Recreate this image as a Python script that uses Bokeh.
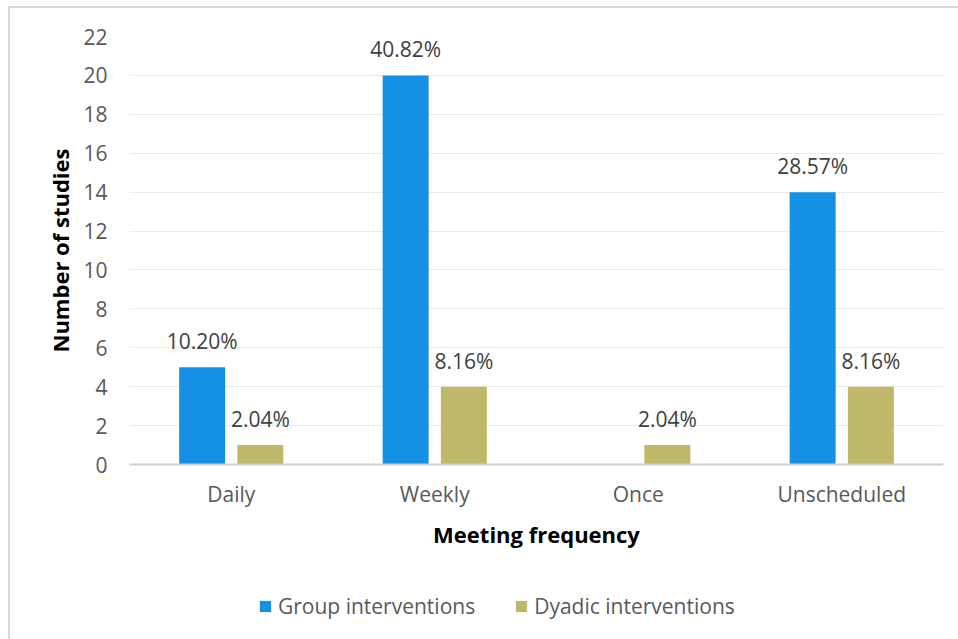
from bokeh.plotting import figure
from bokeh.layouts import column
from bokeh.models import (ColumnDataSource, FactorRange, FixedTicker, Legend,
                          LegendItem, LabelSet)
from bokeh.core.properties import value
from bokeh.transform import dodge
from bokeh.embed import file_html
from bokeh.resources import INLINE

# Meeting frequency of interventions: number of studies per category
categories = ["Daily", "Weekly", "Once", "Unscheduled"]
group_counts = [5, 20, 0, 14]
dyadic_counts = [1, 4, 1, 4]
group_labels = ["10.20%", "40.82%", "", "28.57%"]
dyadic_labels = ["2.04%", "8.16%", "2.04%", "8.16%"]
y_ticks = [0, 2, 4, 6, 8, 10, 12, 14, 16, 18, 20, 22]
series_names = ["Group interventions", "Dyadic interventions"]

FONT = "Open Sans"
TXT = "21px"
TITLE = "22px"
BLUE = "#1490E4"
OLIVE = "#BFB86B"

src = ColumnDataSource(dict(
    cat=categories,
    group=group_counts,
    dyadic=dyadic_counts,
    glabel=group_labels,
    dlabel=dyadic_labels,
))

# ---- main bar chart -------------------------------------------------------
p = figure(
    x_range=FactorRange(*categories, range_padding=0),
    y_range=(0, 22),
    width=958, height=564,
    output_backend="svg", toolbar_location=None,
    min_border_left=129, min_border_right=15,
    min_border_top=36, min_border_bottom=100,
)
p.outline_line_color = None
p.background_fill_color = "white"
p.border_fill_color = None

bar_w = 0.226
off = 0.143
p.vbar(x=dodge("cat", -off, range=p.x_range), top="group", width=bar_w,
       source=src, fill_color=BLUE, line_color=None)
p.vbar(x=dodge("cat", off, range=p.x_range), top="dyadic", width=bar_w,
       source=src, fill_color=OLIVE, line_color=None)

for col, lab, dx in (("group", "glabel", -off), ("dyadic", "dlabel", off)):
    p.add_layout(LabelSet(
        x=dodge("cat", dx, range=p.x_range), y=col, text=lab, source=src,
        y_offset=12, text_align="center", text_baseline="bottom",
        text_font=value(FONT), text_font_size=value(TXT), text_color="#404040",
    ))

p.yaxis.ticker = FixedTicker(ticks=y_ticks)
p.yaxis.axis_line_color = None
p.yaxis.major_tick_line_color = None
p.yaxis.minor_tick_line_color = None
p.yaxis.major_tick_out = 0
p.yaxis.minor_tick_out = 0
p.yaxis.major_label_standoff = 22
p.yaxis.major_label_text_font = FONT
p.yaxis.major_label_text_font_size = TXT
p.yaxis.major_label_text_color = "#595959"
p.yaxis.axis_label = "Number of studies"
p.yaxis.axis_label_text_font = FONT
p.yaxis.axis_label_text_font_style = "bold"
p.yaxis.axis_label_text_font_size = TITLE
p.yaxis.axis_label_text_color = "black"
p.yaxis.axis_label_standoff = 5

p.xaxis.axis_line_color = "#D0D0D0"
p.xaxis.axis_line_width = 2
p.xaxis.major_tick_line_color = None
p.xaxis.minor_tick_line_color = None
p.xaxis.major_tick_out = 0
p.xaxis.minor_tick_out = 0
p.xaxis.major_label_standoff = 15
p.xaxis.major_label_text_font = FONT
p.xaxis.major_label_text_font_size = TXT
p.xaxis.major_label_text_color = "#595959"
p.xaxis.axis_label = "Meeting frequency"
p.xaxis.axis_label_text_font = FONT
p.xaxis.axis_label_text_font_style = "bold"
p.xaxis.axis_label_text_font_size = TITLE
p.xaxis.axis_label_text_color = "black"
p.xaxis.axis_label_standoff = 8

p.xgrid.grid_line_color = None
p.ygrid.grid_line_color = "#D4D4D4"
p.ygrid.grid_line_dash = "1 1"
p.ygrid.grid_line_width = 1

# ---- legend strip underneath ---------------------------------------------
# same side borders as the chart so the column keeps both frames aligned
leg = figure(
    x_range=(0, 1), y_range=(0, 1), width=958, height=75,
    output_backend="svg", toolbar_location=None,
    x_axis_location=None, y_axis_location=None,
    min_border_left=129, min_border_right=15,
    min_border_top=8, min_border_bottom=0,
)
leg.grid.visible = False
leg.outline_line_color = None
leg.background_fill_color = None
leg.border_fill_color = None

# swatch renderers lie below the strip's visible range; only their
# legend glyphs show
swatch_src = ColumnDataSource(dict(x=[0.5], bottom=[-3], top=[-2]))
swatches = [
    leg.vbar(x="x", bottom="bottom", top="top", width=0.1, source=swatch_src,
             fill_color=c, line_color=None)
    for c in (BLUE, OLIVE)
]
legend = Legend(
    items=[LegendItem(label=n, renderers=[r])
           for n, r in zip(series_names, swatches)],
    orientation="horizontal", location="left",
    label_text_font=FONT, label_text_font_size=TXT,
    label_text_color="#595959", glyph_width=14, glyph_height=14,
    label_standoff=6, spacing=39, border_line_color=None,
    background_fill_alpha=0, padding=0, margin=129,
)
leg.add_layout(legend, "center")

page = column(p, leg, spacing=0)
# light frame line along the top and left of the whole chart
page.styles = {
    "background-color": "white",
    "box-shadow": "inset 8px 6px 0 0 white, inset 10px 8px 0 0 #D9D9D9",
}

open("out.html", "w").write(file_html(page, INLINE))
